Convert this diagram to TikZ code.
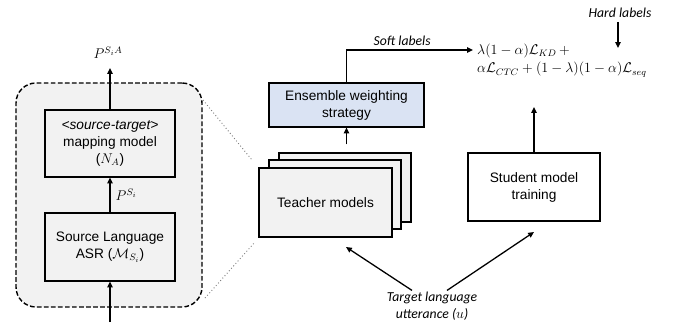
\documentclass[tikz,border=0pt]{standalone}
\usepackage{fontspec}
\setmainfont{Liberation Sans}
\newfontfamily\labelfont{Carlito}
\usetikzlibrary{arrows.meta,positioning}
\definecolor{boxgray}{HTML}{F2F2F2}
\definecolor{ensblue}{HTML}{DAE3F3}
\begin{document}
\begin{tikzpicture}[x=0.03cm,y=-0.03cm,
    font=\fontsize{11.7}{14.5}\selectfont,
    box/.style={draw,line width=0.9pt,fill=boxgray,align=center,inner sep=0pt},
    arr/.style={-{Triangle[length=5pt,width=4.5pt]},line width=1.1pt},
    lbl/.style={font=\fontsize{11.7}{14.5}\selectfont\labelfont\itshape}]

    \useasboundingbox (0,0) rectangle (677,322);

    % source side (zoomed in)
    \node[draw,dash pattern=on 4pt off 2pt,line width=1.2pt,fill=boxgray,rounded corners=0.6cm,
          minimum width=5.58cm,minimum height=6.72cm] (grp) at (109,195) {};
    \node[box,minimum width=3.9cm,minimum height=2.01cm] (map) at (110,143.5)
        {\textit{<source-target>}\\mapping model\\($N_A$)};
    \node[box,minimum width=3.9cm,minimum height=2.04cm] (asr) at (110,247)
        {Source Language\\ASR ($\mathcal{M}_{S_i}$)};
    \coordinate (in) at (110,322);
    \coordinate (out) at (110,68);
    \node (pa) at (108,53) {$P^{S_iA}$};

    \draw[arr] (in) -- (asr.south);
    \draw[arr] (asr.north) -- node[right=1pt] {$P^{S_i}$} (map.south);
    \draw[arr] (map.north) -- (out);

    % dotted zoom lines
    \draw[gray,dotted,line width=0.8pt] (203,100) -- (252,160);
    \draw[gray,dotted,line width=0.8pt] (205,298) -- (255,242);

    % teachers
    \node[box,minimum width=3.96cm,minimum height=2.07cm] (t3) at (345,187.5) {};
    \node[box,minimum width=3.96cm,minimum height=2.07cm] (t2) at (335,194.5) {};
    \node[box,minimum width=3.99cm,minimum height=2.07cm] (t1) at (325.5,202.5) {Teacher models};

    \node[box,fill=ensblue,minimum width=4.65cm,minimum height=1.32cm] (ens) at (346.5,105)
        {Ensemble weighting\\strategy};
    \draw[arr,shorten <=8*0.03cm] (ens.south |- t3.north) -- (ens.south);

    % loss
    \node[anchor=north west,align=left,inner sep=0pt,font=\fontsize{11.7}{15.5}\selectfont] (loss) at (477,44)
        {$\lambda(1-\alpha)\mathcal{L}_{KD}\, +$\\
         $\alpha\mathcal{L}_{CTC}+(1-\lambda)(1-\alpha)\mathcal{L}_{seq}$};
    \coordinate (soft) at (473,50);
    \draw[arr] (ens.north) |- node[lbl,above,pos=0.72] {Soft labels} (soft);

    \node[lbl] (hard) at (620,13) {Hard labels};
    \coordinate (hardin) at (618,48);
    \draw[arr] (hard.south -| hardin) -- (hardin);

    % student
    \node[box,fill=white,minimum width=3.96cm,minimum height=2.04cm] (stu) at (534,187)
        {Student model\\training};
    \coordinate (stuout) at (534,107);
    \draw[arr] (stu.north) -- (stuout);

    % target utterance
    \node[lbl,align=center,inner sep=1pt] (tgt) at (432,306) {Target language\\utterance ($u$)};
    \coordinate (tin) at (346,247);
    \coordinate (sin) at (534,232);
    \draw[arr] ([xshift=-20*0.03cm]tgt.north) -- (tin);
    \draw[arr] ([xshift=15*0.03cm]tgt.north) -- (sin);

\end{tikzpicture}
\end{document}
